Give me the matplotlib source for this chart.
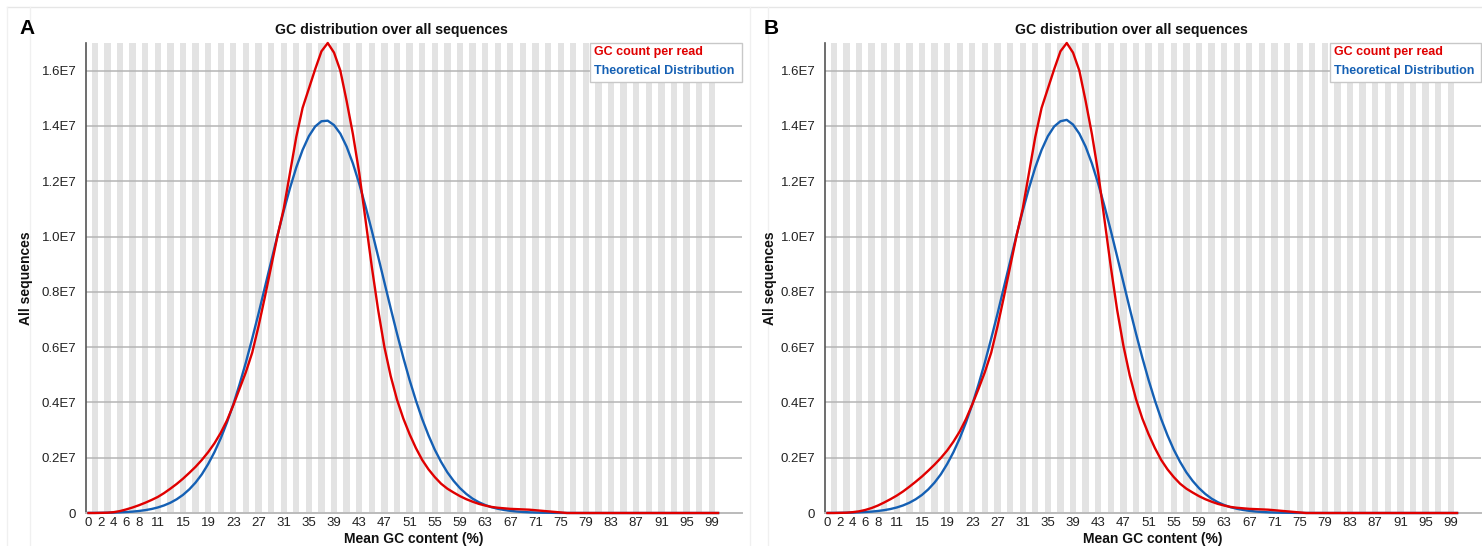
import matplotlib
matplotlib.use("Agg")
import matplotlib.pyplot as plt
from matplotlib.patches import Rectangle

plt.rcParams['font.family'] = ['Liberation Sans', 'DejaVu Sans']

# GC content categories 0..100 (%)
gc = list(range(101))

# read counts, in millions
red_a = [0, 0, 0.005, 0.01, 0.03, 0.07, 0.13, 0.2, 0.28, 0.37, 0.47, 0.58, 0.72, 0.88, 1.05,
         1.24, 1.45, 1.67, 1.92, 2.2, 2.52, 2.9, 3.35, 3.9, 4.5, 5.1, 5.8, 6.75, 7.8, 8.9,
         10.0, 11.0, 12.3, 13.6, 14.65, 15.35, 16.05, 16.7, 17.0, 16.65, 16.0, 14.9, 13.7, 12.3, 10.6,
         8.9, 7.35, 6.0, 4.95, 4.1, 3.42, 2.85, 2.35, 1.92, 1.58, 1.3, 1.06, 0.88, 0.74, 0.61,
         0.5, 0.41, 0.33, 0.27, 0.22, 0.19, 0.17, 0.15, 0.14, 0.13, 0.12, 0.1, 0.08, 0.06, 0.04,
         0.02] + [0] * 25
blue_a = [0.003, 0.004, 0.007, 0.011, 0.016, 0.024, 0.035, 0.05, 0.073, 0.103, 0.144, 0.2, 0.274, 0.371, 0.496,
          0.654, 0.854, 1.1, 1.4, 1.77, 2.2, 2.7, 3.28, 3.93, 4.66, 5.45, 6.31, 7.21, 8.15, 9.09,
          10.03, 10.92, 11.75, 12.5, 13.13, 13.63, 13.98, 14.17, 14.19, 14.03, 13.72, 13.25, 12.64, 11.91, 11.09,
          10.21, 9.28, 8.34, 7.4, 6.49, 5.62, 4.81, 4.07, 3.4, 2.81, 2.29, 1.85, 1.47, 1.16, 0.9,
          0.69, 0.52, 0.39, 0.29, 0.21, 0.154, 0.11, 0.078, 0.054, 0.037, 0.025, 0.017, 0.011, 0.008, 0.005,
          0.003, 0.002, 0.001, 0.001] + [0] * 22
red_b = [0, 0, 0.005, 0.01, 0.03, 0.06, 0.11, 0.18, 0.27, 0.38, 0.5, 0.63, 0.78, 0.95, 1.13,
         1.32, 1.53, 1.75, 1.99, 2.26, 2.58, 2.95, 3.4, 3.93, 4.5, 5.1, 5.8, 6.75, 7.8, 8.9,
         10.0, 11.0, 12.3, 13.6, 14.65, 15.35, 16.05, 16.7, 17.0, 16.65, 16.0, 14.9, 13.7, 12.3, 10.6,
         8.9, 7.35, 6.05, 4.98, 4.12, 3.42, 2.85, 2.35, 1.92, 1.58, 1.3, 1.06, 0.88, 0.74, 0.61,
         0.5, 0.41, 0.33, 0.27, 0.22, 0.19, 0.17, 0.15, 0.14, 0.13, 0.12, 0.1, 0.08, 0.06, 0.04,
         0.02] + [0] * 25
blue_b = [0.003, 0.004, 0.007, 0.011, 0.016, 0.024, 0.035, 0.05, 0.073, 0.103, 0.144, 0.2, 0.274, 0.371, 0.496,
          0.654, 0.854, 1.1, 1.4, 1.77, 2.2, 2.7, 3.28, 3.93, 4.66, 5.45, 6.31, 7.21, 8.15, 9.09,
          10.03, 10.92, 11.75, 12.5, 13.13, 13.63, 13.98, 14.17, 14.22, 14.05, 13.72, 13.25, 12.64, 11.91, 11.09,
          10.21, 9.28, 8.34, 7.4, 6.49, 5.62, 4.81, 4.07, 3.4, 2.81, 2.29, 1.85, 1.47, 1.16, 0.9,
          0.69, 0.52, 0.39, 0.29, 0.21, 0.154, 0.11, 0.078, 0.054, 0.037, 0.025, 0.017, 0.011, 0.008, 0.005,
          0.003, 0.002, 0.001, 0.001] + [0] * 22

xtick_vals = [0, 2, 4, 6, 8, 11, 15, 19, 23, 27, 31, 35, 39, 43, 47, 51, 55, 59, 63, 67, 71, 75,
              79, 83, 87, 91, 95, 99]
ytick_vals = [0, 2e6, 4e6, 6e6, 8e6, 10e6, 12e6, 14e6, 16e6]
ytick_labels = ['0', '0.2E7', '0.4E7', '0.6E7', '0.8E7', '1.0E7', '1.2E7', '1.4E7', '1.6E7']

RED = '#e00000'
BLUE = '#1560b4'
W, H = 1482, 546

fig = plt.figure(figsize=(W / 100, H / 100), dpi=100)
fig.patch.set_facecolor('white')


def px(x, y):
    return x / W, 1 - y / H


def panel(left, box_left, red, blue, title_x, ylab_x):
    right = left + 656
    ax = fig.add_axes([left / W, (H - 513) / H, 656 / W, 470 / H])
    for i in range(1, 100, 2):
        ax.axvspan(i - 0.5, i + 0.5, color='#e3e3e3', lw=0, zorder=0)
    for v in ytick_vals[1:]:
        ax.axhline(v, color='#b5b5b5', lw=1.1, zorder=1)
    ax.plot(gc, [v * 1e6 for v in blue], color=BLUE, lw=1.7, zorder=3, clip_on=False)
    ax.plot(gc, [v * 1e6 for v in red], color=RED, lw=1.7, zorder=4, clip_on=False)
    ax.set_xlim(-0.4, 103.8)
    ax.set_ylim(0, 17.0e6)
    ax.set_xticks(xtick_vals)
    ax.set_xticklabels([str(v) for v in xtick_vals])
    ax.set_yticks(ytick_vals)
    ax.set_yticklabels(ytick_labels)
    ax.tick_params(length=0, labelsize=9.5, colors='#222222')
    ax.tick_params(axis='x', pad=3)
    ax.tick_params(axis='y', pad=7)
    for s in ['top', 'right']:
        ax.spines[s].set_visible(False)
    ax.spines['left'].set_color('#555555')
    ax.spines['bottom'].set_color('#bbbbbb')
    ax.spines['left'].set_linewidth(1.2)
    ax.spines['bottom'].set_linewidth(1.4)
    ax.set_facecolor('white')

    # legend box
    bx0 = (box_left - left) / 656
    ax.add_patch(Rectangle((bx0, (513 - 82) / 470), 1.0 - bx0, 39 / 470, transform=ax.transAxes,
                           facecolor='white', edgecolor='#c8c8c8', lw=1, zorder=6, clip_on=False))
    ax.text(bx0 + 0.006, (513 - 52) / 470, 'GC count per read', color=RED, fontsize=9,
            fontweight='bold', transform=ax.transAxes, va='center', ha='left', zorder=7)
    ax.text(bx0 + 0.006, (513 - 71) / 470, 'Theoretical Distribution', color=BLUE, fontsize=9,
            fontweight='bold', transform=ax.transAxes, va='center', ha='left', zorder=7)

    fig.text(*px(title_x, 30), 'GC distribution over all sequences', ha='center', va='center',
             fontsize=10.2, fontweight='bold', color='#111111')
    fig.text(*px(ylab_x, 278), 'All sequences', rotation=90, ha='center', va='center',
             fontsize=10, fontweight='bold', color='#111111')
    fig.text(*px((left + right) / 2, 538.5), 'Mean GC content (%)', ha='center', va='center',
             fontsize=10, fontweight='bold', color='#111111')
    return ax


panel(86, 590, red_a, blue_a, 391, 26)
panel(825, 1330, red_b, blue_b, 1131, 770)

fig.text(*px(27, 28), 'A', ha='center', va='center', fontsize=15, fontweight='bold')
fig.text(*px(771, 29), 'B', ha='center', va='center', fontsize=15, fontweight='bold')

# faint panel frames
fig.add_artist(plt.Line2D([7 / W, 1], [1 - 7 / H, 1 - 7 / H], color='#e6e6e6', lw=1))
for xx in [7, 30, 750, 768]:
    fig.add_artist(plt.Line2D([xx / W, xx / W], [0, 1 - 7 / H], color='#f0f0f0', lw=1))

fig.savefig('out.png', dpi=100, facecolor='white')
